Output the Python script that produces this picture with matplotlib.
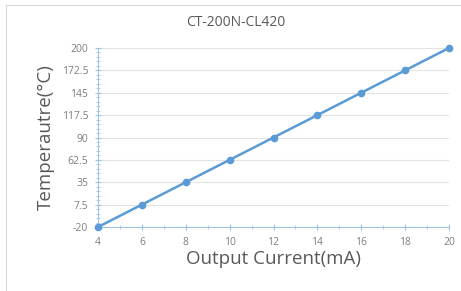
import numpy as np
import matplotlib.pyplot as plt
from matplotlib.ticker import AutoMinorLocator
from matplotlib.lines import Line2D

plt.rcParams['font.family'] = ['Open Sans', 'DejaVu Sans']

current_ma = [4, 6, 8, 10, 12, 14, 16, 18, 20]
temperature = [-20, 7.5, 35, 62.5, 90, 117.5, 145, 172.5, 200]
y_ticks = [-20, 7.5, 35, 62.5, 90, 117.5, 145, 172.5, 200]
y_tick_labels = ['-20', '7.5', '35', '62.5', '90', '117.5', '145', '172.5', '200']

line_color = '#5b9bd5'
axis_color = '#9dc3e6'
text_color = '#595959'
tick_color = '#7f7f7f'

fig = plt.figure(figsize=(4.61, 2.91), dpi=100)
# light frame (top and left only, like the cropped screenshot)
fig.lines.append(Line2D([6 / 461, 1.0], [1 - 5 / 291, 1 - 5 / 291], transform=fig.transFigure,
                        color='#d9d9d9', linewidth=0.8))
fig.lines.append(Line2D([6 / 461, 6 / 461], [0.0, 1 - 5 / 291], transform=fig.transFigure,
                        color='#d9d9d9', linewidth=0.8))

ax = fig.add_axes([98 / 461, 1 - 227 / 291, (449 - 98) / 461, (227 - 48) / 291])
ax.plot(current_ma, temperature, color=line_color, linewidth=1.8, marker='o',
        markersize=4.5, clip_on=False, zorder=3)

ax.set_xlim(4, 20)
ax.set_ylim(-20, 200)
ax.set_xticks(current_ma)
ax.set_yticks(y_ticks)
ax.set_yticklabels(y_tick_labels)
ax.xaxis.set_minor_locator(AutoMinorLocator(2))
ax.yaxis.set_minor_locator(AutoMinorLocator(5))

ax.grid(axis='y', color='#e3e3e3', linewidth=0.8)
ax.set_axisbelow(True)
for s in ['top', 'right']:
    ax.spines[s].set_visible(False)
for s in ['left', 'bottom']:
    ax.spines[s].set_color(axis_color)
    ax.spines[s].set_linewidth(0.8)

ax.tick_params(which='major', length=4, color=axis_color, labelsize=7.5,
               labelcolor=tick_color, direction='inout')
ax.tick_params(which='minor', length=2.5, color=axis_color, direction='inout')
ax.tick_params(axis='x', pad=5)
ax.tick_params(axis='y', pad=5)

fig.text(236 / 461, 1 - 22 / 291, 'CT-200N-CL420', fontsize=10, color=text_color,
         ha='center', va='center')
ax.set_xlabel('Output Current(mA)', fontsize=13.5, color=text_color, labelpad=2)
ax.set_ylabel('Temperautre(°C)', fontsize=13.5, color=text_color, labelpad=5)

fig.savefig('out.png', dpi=100)
